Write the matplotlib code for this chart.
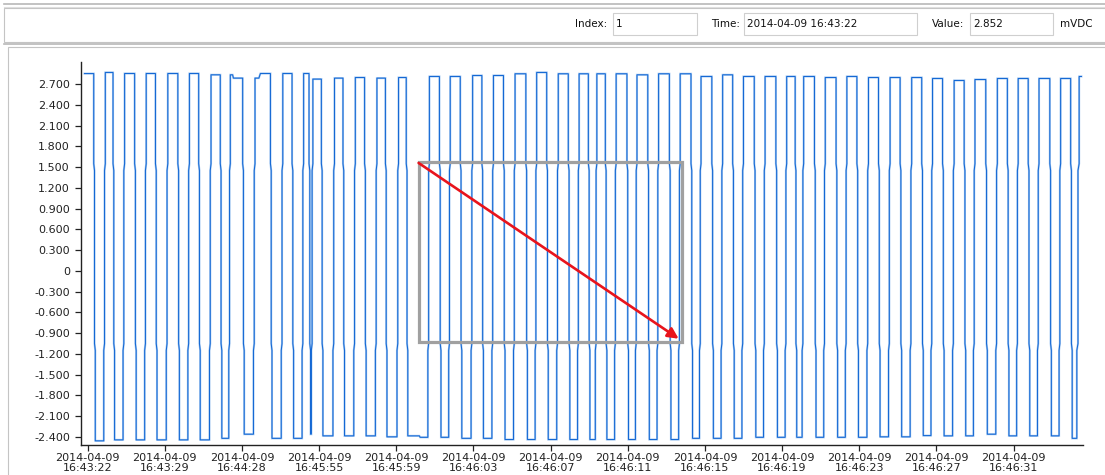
import numpy as np
import matplotlib
matplotlib.use("Agg")
import matplotlib.pyplot as plt
from matplotlib.patches import Rectangle
from matplotlib.lines import Line2D

# flat parts of the trace: first/last sample index and level (mVDC)
seg_start = [1, 15, 28, 40, 53, 68, 81, 95, 109, 124, 137, 151, 165, 179, 190, 194,
             208, 222, 229, 244, 258, 272, 285, 294, 297, 310, 325, 338, 352, 366, 380, 393,
             408, 420, 436, 448, 463, 475, 490, 504, 518, 531, 546, 559, 575, 587, 602, 615,
             630, 642, 656, 665, 678, 690, 706, 717, 733, 745, 761, 773, 789, 800, 816, 828,
             843, 855, 871, 883, 899, 911, 924, 933, 949, 961, 977, 989, 1004, 1017, 1032, 1045,
             1060, 1073, 1088, 1100, 1115, 1128, 1143, 1155, 1171, 1184, 1199, 1211, 1226, 1238, 1254, 1266,
             1281, 1290]
seg_end = [13, 26, 38, 51, 66, 79, 93, 107, 122, 135, 149, 163, 177, 188, 193, 206,
           220, 227, 242, 256, 270, 283, 292, 295, 308, 323, 336, 350, 364, 378, 391, 406,
           418, 435, 446, 461, 473, 488, 502, 516, 529, 544, 557, 573, 585, 600, 613, 628,
           640, 654, 663, 676, 688, 704, 715, 731, 743, 759, 771, 787, 798, 814, 826, 841,
           853, 869, 881, 897, 909, 922, 931, 947, 959, 975, 987, 1002, 1015, 1030, 1043, 1058,
           1071, 1086, 1098, 1113, 1126, 1141, 1153, 1169, 1182, 1197, 1209, 1224, 1236, 1252, 1264, 1279,
           1287, 1293]
seg_level = [2.852, -2.456, 2.868, -2.442, 2.853, -2.442, 2.853, -2.442, 2.853, -2.442, 2.853, -2.442,
             2.834, -2.420, 2.834, 2.786, -2.360, 2.786, 2.853, -2.420, 2.853, -2.420, 2.853, -2.360,
             2.772, -2.384, 2.786, -2.384, 2.795, -2.384, 2.786, -2.398, 2.795, -2.384, -2.405, 2.810,
             -2.405, 2.810, -2.420, 2.824, -2.420, 2.824, -2.437, 2.849, -2.437, 2.868, -2.437, 2.849,
             -2.437, 2.849, -2.437, 2.849, -2.437, 2.849, -2.437, 2.834, -2.437, 2.849, -2.437, 2.849,
             -2.420, 2.810, -2.420, 2.834, -2.420, 2.810, -2.405, 2.810, -2.405, 2.810, -2.405, 2.810,
             -2.405, 2.795, -2.405, 2.810, -2.405, 2.795, -2.398, 2.795, -2.398, 2.795, -2.380, 2.781,
             -2.384, 2.752, -2.384, 2.766, -2.360, 2.781, -2.384, 2.781, -2.384, 2.781, -2.384, 2.781,
             -2.420, 2.810]

# levels where the recorder steps sideways on each edge
edge_upper = 1.50
edge_lower = -1.10
jog = 0.05

tick_index = [5, 105, 205, 305, 405, 505, 605, 705, 805, 905, 1005, 1105, 1205]
tick_date = "2014-04-09"
tick_time = ["16:43:22", "16:43:29", "16:44:28", "16:45:55", "16:45:59", "16:46:03", "16:46:07",
             "16:46:11", "16:46:15", "16:46:19", "16:46:23", "16:46:27", "16:46:31"]
y_ticks = np.round(np.arange(-2.4, 2.71, 0.3), 1)

# zoom selection: index from/to, value bottom/top
sel_x0, sel_x1 = 434, 775
sel_y0, sel_y1 = -1.03, 1.58

cur_index = "1"
cur_time = "2014-04-09 16:43:22"
cur_value = "2.852"
unit = "mVDC"

W, H = 1105, 475


def fxy(x, y):
    return x / W, 1 - y / H


# build the trace
xs, ys = [], []
for i, lvl in enumerate(seg_level):
    if i > 0:
        prev = seg_level[i - 1]
        a, b = seg_end[i - 1], seg_start[i]
        if prev * lvl < 0:
            m = (a + b) / 2
            if lvl < prev:
                pts = [(a, edge_upper + jog), (m, edge_upper - jog), (m, edge_lower + jog), (b, edge_lower - jog)]
            else:
                pts = [(a, edge_lower - jog), (m, edge_lower + jog), (m, edge_upper - jog), (b, edge_upper + jog)]
            for px_, py_ in pts:
                xs.append(px_)
                ys.append(py_)
    xs += [seg_start[i], seg_end[i]]
    ys += [lvl, lvl]

plt.rcParams['font.family'] = ['DejaVu Sans']
fig = plt.figure(figsize=(W / 100, H / 100), dpi=100)
fig.patch.set_facecolor('white')

# window frame / toolbar (kept behind the axes)
frame = '#c4c4c4'
fig.add_artist(Line2D([fxy(4, 0)[0], 1], [fxy(0, 4)[1]] * 2, color='#b8b8b8', lw=1.2, zorder=-5))
fig.add_artist(Line2D([fxy(4, 0)[0], 1], [fxy(0, 6.5)[1]] * 2, color='#e0e0e0', lw=0.8, zorder=-5))
x0, y0 = fxy(4, 42)
fig.add_artist(Rectangle((x0, y0), 1.0, 34 / H, transform=fig.transFigure,
                         facecolor='white', edgecolor=frame, lw=0.8, zorder=-5))
fig.add_artist(Line2D([fxy(4, 0)[0], 1], [fxy(0, 44)[1]] * 2, color='#b8b8b8', lw=1.2, zorder=-5))
x0, y0 = fxy(8, 476)
fig.add_artist(Rectangle((x0, y0), 1.0, 429 / H, transform=fig.transFigure,
                         facecolor='white', edgecolor=frame, lw=0.8, zorder=-5))

fields = [("Index:", 575, 613, 697, cur_index),
          ("Time:", 711, 744, 917, cur_time),
          ("Value:", 932, 970, 1053, cur_value)]
for label, lx, bx0, bx1, val in fields:
    fig.text(*fxy(lx, 24), label, fontsize=7.5, va='center', ha='left', color='#111111')
    rx, ry = fxy(bx0, 35)
    fig.add_artist(Rectangle((rx, ry), (bx1 - bx0) / W, 22 / H, transform=fig.transFigure,
                             facecolor='white', edgecolor='#cfcfcf', lw=0.8, zorder=-4))
    fig.text(*fxy(bx0 + 3, 24), val, fontsize=7.5, va='center', ha='left', color='#111111')
fig.text(*fxy(1060, 24), unit, fontsize=7.5, va='center', ha='left', color='#111111')

# plot area
ax_l, ax_r, ax_t, ax_b = 81, 1083, 62, 445
ax = fig.add_axes([ax_l / W, 1 - ax_b / H, (ax_r - ax_l) / W, (ax_b - ax_t) / H])
ax.set_zorder(2)
ax.patch.set_alpha(0)

ax.plot(xs, ys, color='#a9cbf2', lw=1.5, solid_joinstyle='miter')
ax.plot(xs, ys, color='#1468d4', lw=0.75, solid_joinstyle='miter')

ax.add_patch(Rectangle((sel_x0, sel_y0), sel_x1 - sel_x0, sel_y1 - sel_y0,
                       fill=False, edgecolor='#a0a0a0', lw=2.3, zorder=5))
ax.annotate("", xy=(sel_x1 - 4, sel_y0 + 0.05), xytext=(sel_x0, sel_y1 - 0.02),
            arrowprops=dict(arrowstyle='-|>', color='#e8141c', lw=1.9, mutation_scale=16,
                            shrinkA=0, shrinkB=0), zorder=6)

ax.set_xlim(-3.5, 1295)
ax.set_ylim(-2.516, 3.019)

ax.set_yticks(y_ticks)
ax.set_yticklabels(["0" if v == 0 else f"{v:.3f}" for v in y_ticks])
ax.set_xticks(tick_index)
ax.set_xticklabels([f"{tick_date}\n{t}" for t in tick_time], linespacing=1.0)

for side in ('top', 'right'):
    ax.spines[side].set_visible(False)
for side in ('left', 'bottom'):
    ax.spines[side].set_color('#222222')
    ax.spines[side].set_linewidth(1.0)
ax.tick_params(axis='both', labelsize=8, colors='#222222', length=4, width=0.9, direction='out')
ax.tick_params(axis='y', pad=4)
ax.tick_params(axis='x', pad=2)

fig.savefig("out.png", dpi=100, facecolor='white')
